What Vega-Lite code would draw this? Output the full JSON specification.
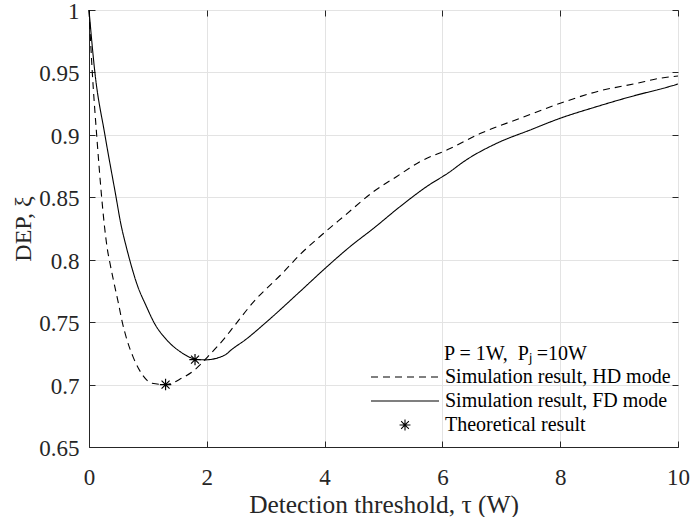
{
  "$schema": "https://vega.github.io/schema/vega-lite/v6.json",
  "width": 589,
  "height": 437,
  "autosize": {"type": "none"},
  "padding": {"left": 89, "top": 10, "right": 13, "bottom": 70},
  "background": "white",
  "config": {
    "font": "Liberation Serif",
    "view": {"stroke": "#262626", "strokeWidth": 1},
    "axis": {
      "labelFont": "Liberation Serif",
      "titleFont": "Liberation Serif",
      "labelFontSize": 23,
      "titleFontSize": 24,
      "titleFontWeight": "normal",
      "labelColor": "#262626",
      "titleColor": "#262626",
      "tickColor": "#262626",
      "domainColor": "#262626",
      "gridColor": "#e3e3e3",
      "gridWidth": 1,
      "labelFlush": false
    }
  },
  "data": {
    "values": [
      {"series": "Simulation result, HD mode", "x": 0, "y": 1.0},
      {"series": "Simulation result, HD mode", "x": 0.056, "y": 0.95},
      {"series": "Simulation result, HD mode", "x": 0.13, "y": 0.9},
      {"series": "Simulation result, HD mode", "x": 0.215, "y": 0.85},
      {"series": "Simulation result, HD mode", "x": 0.26, "y": 0.828},
      {"series": "Simulation result, HD mode", "x": 0.31, "y": 0.809},
      {"series": "Simulation result, HD mode", "x": 0.357, "y": 0.797},
      {"series": "Simulation result, HD mode", "x": 0.44, "y": 0.778},
      {"series": "Simulation result, HD mode", "x": 0.5, "y": 0.765},
      {"series": "Simulation result, HD mode", "x": 0.56, "y": 0.751},
      {"series": "Simulation result, HD mode", "x": 0.65, "y": 0.735},
      {"series": "Simulation result, HD mode", "x": 0.75, "y": 0.722},
      {"series": "Simulation result, HD mode", "x": 0.92, "y": 0.707},
      {"series": "Simulation result, HD mode", "x": 1.07, "y": 0.701},
      {"series": "Simulation result, HD mode", "x": 1.3, "y": 0.7},
      {"series": "Simulation result, HD mode", "x": 1.57, "y": 0.705},
      {"series": "Simulation result, HD mode", "x": 1.8, "y": 0.712},
      {"series": "Simulation result, HD mode", "x": 2.03, "y": 0.723},
      {"series": "Simulation result, HD mode", "x": 2.3, "y": 0.737},
      {"series": "Simulation result, HD mode", "x": 2.45, "y": 0.746},
      {"series": "Simulation result, HD mode", "x": 2.79, "y": 0.766},
      {"series": "Simulation result, HD mode", "x": 3.3, "y": 0.79},
      {"series": "Simulation result, HD mode", "x": 3.58, "y": 0.804},
      {"series": "Simulation result, HD mode", "x": 3.98, "y": 0.821},
      {"series": "Simulation result, HD mode", "x": 4.32, "y": 0.8345},
      {"series": "Simulation result, HD mode", "x": 4.83, "y": 0.8545},
      {"series": "Simulation result, HD mode", "x": 5.22, "y": 0.8665},
      {"series": "Simulation result, HD mode", "x": 5.62, "y": 0.8785},
      {"series": "Simulation result, HD mode", "x": 6.13, "y": 0.889},
      {"series": "Simulation result, HD mode", "x": 6.64, "y": 0.901},
      {"series": "Simulation result, HD mode", "x": 7.32, "y": 0.9133},
      {"series": "Simulation result, HD mode", "x": 8.0, "y": 0.9253},
      {"series": "Simulation result, HD mode", "x": 8.62, "y": 0.9346},
      {"series": "Simulation result, HD mode", "x": 9.3, "y": 0.9413},
      {"series": "Simulation result, HD mode", "x": 9.69, "y": 0.9453},
      {"series": "Simulation result, HD mode", "x": 10, "y": 0.9471},
      {"series": "Simulation result, FD mode", "x": 0, "y": 1.0},
      {"series": "Simulation result, FD mode", "x": 0.1, "y": 0.95},
      {"series": "Simulation result, FD mode", "x": 0.27, "y": 0.9},
      {"series": "Simulation result, FD mode", "x": 0.46, "y": 0.85},
      {"series": "Simulation result, FD mode", "x": 0.535, "y": 0.83},
      {"series": "Simulation result, FD mode", "x": 0.64, "y": 0.809},
      {"series": "Simulation result, FD mode", "x": 0.69, "y": 0.8},
      {"series": "Simulation result, FD mode", "x": 0.81, "y": 0.781},
      {"series": "Simulation result, FD mode", "x": 0.98, "y": 0.762},
      {"series": "Simulation result, FD mode", "x": 1.1, "y": 0.75},
      {"series": "Simulation result, FD mode", "x": 1.32, "y": 0.7357},
      {"series": "Simulation result, FD mode", "x": 1.55, "y": 0.7263},
      {"series": "Simulation result, FD mode", "x": 1.8, "y": 0.7205},
      {"series": "Simulation result, FD mode", "x": 1.97, "y": 0.7198},
      {"series": "Simulation result, FD mode", "x": 2.31, "y": 0.7237},
      {"series": "Simulation result, FD mode", "x": 2.42, "y": 0.728},
      {"series": "Simulation result, FD mode", "x": 2.65, "y": 0.7357},
      {"series": "Simulation result, FD mode", "x": 3.02, "y": 0.7504},
      {"series": "Simulation result, FD mode", "x": 3.58, "y": 0.7744},
      {"series": "Simulation result, FD mode", "x": 4.04, "y": 0.7944},
      {"series": "Simulation result, FD mode", "x": 4.43, "y": 0.8104},
      {"series": "Simulation result, FD mode", "x": 4.83, "y": 0.8251},
      {"series": "Simulation result, FD mode", "x": 5.28, "y": 0.8425},
      {"series": "Simulation result, FD mode", "x": 5.73, "y": 0.8585},
      {"series": "Simulation result, FD mode", "x": 6.13, "y": 0.8705},
      {"series": "Simulation result, FD mode", "x": 6.36, "y": 0.8785},
      {"series": "Simulation result, FD mode", "x": 6.92, "y": 0.8932},
      {"series": "Simulation result, FD mode", "x": 7.49, "y": 0.9039},
      {"series": "Simulation result, FD mode", "x": 8.0, "y": 0.9133},
      {"series": "Simulation result, FD mode", "x": 8.62, "y": 0.9226},
      {"series": "Simulation result, FD mode", "x": 9.3, "y": 0.9319},
      {"series": "Simulation result, FD mode", "x": 9.75, "y": 0.9373},
      {"series": "Simulation result, FD mode", "x": 10, "y": 0.9407},
      {"series": "Theoretical result", "x": 1.3, "y": 0.7},
      {"series": "Theoretical result", "x": 1.8, "y": 0.72}
    ]
  },
  "resolve": {"axis": {"x": "independent", "y": "independent"}},
  "layer": [
    {
      "transform": [{"filter": "datum.series !== 'Theoretical result'"}],
      "mark": {"type": "line", "color": "black", "strokeWidth": 1.1, "interpolate": "monotone"},
      "encoding": {
        "x": {
          "field": "x", "type": "quantitative",
          "scale": {"domain": [0, 10], "nice": false},
          "axis": {"orient": "bottom", "values": [0, 2, 4, 6, 8, 10], "tickSize": -6, "labelPadding": 25, "title": "Detection threshold, τ (W)", "titleFontSize": 25.4, "titlePadding": 3, "grid": true, "domain": true}
        },
        "y": {
          "field": "y", "type": "quantitative",
          "scale": {"domain": [0.65, 1], "nice": false, "zero": false},
          "axis": {"orient": "left", "values": [0.65, 0.7, 0.75, 0.8, 0.85, 0.9, 0.95, 1], "format": ".2~f", "tickSize": -6, "labelPadding": 16, "labelOffset": 1.5, "title": "DEP, ξ", "titlePadding": 3, "grid": true, "domain": true}
        },
        "strokeDash": {
          "field": "series", "type": "nominal",
          "scale": {
            "domain": ["Simulation result, HD mode", "Simulation result, FD mode", "Theoretical result"],
            "range": [[7, 5], [1, 0], [1, 0]]
          },
          "legend": {
            "title": "P = 1W,\u00a0\u00a0Pⱼ\u00a0=10W",
            "orient": "none",
            "legendX": 281,
            "legendY": 334,
            "padding": 0,
            "titleFont": "Liberation Serif",
            "titleFontSize": 20,
            "titleFontWeight": "normal",
            "titleColor": "black",
            "titlePadding": 1,
            "labelFont": "Liberation Serif",
            "labelFontSize": 20,
            "labelColor": "black",
            "labelOffset": 5,
            "labelLimit": 400,
            "symbolType": "stroke",
            "symbolSize": 4624,
            "symbolStrokeWidth": 1.1,
            "symbolStrokeColor": "black",
            "clipHeight": 24,
            "rowPadding": 0,
            "encode": {
              "title": {"update": {"dx": {"value": 74}}},
              "symbols": {"update": {
                "shape": {"signal": "datum.value === 'Theoretical result' ? 'M-0.16,0L0.16,0M0,-0.16L0,0.16M-0.113,-0.113L0.113,0.113M-0.113,0.113L0.113,-0.113' : 'stroke'"},
                "stroke": {"value": "black"}
              }}
            }
          }
        }
      }
    },
    {
      "transform": [{"filter": "datum.series === 'Theoretical result'"}],
      "mark": {
        "type": "point",
        "shape": "M-1,0L1,0M0,-1L0,1M-0.7,-0.7L0.7,0.7M-0.7,0.7L0.7,-0.7",
        "filled": false,
        "color": "black",
        "strokeWidth": 1.2,
        "size": 130,
        "opacity": 1
      },
      "encoding": {
        "x": {
          "field": "x", "type": "quantitative",
          "scale": {"domain": [0, 10], "nice": false},
          "axis": {"orient": "top", "values": [0, 2, 4, 6, 8, 10], "tickSize": -6, "labels": false, "title": null, "grid": false, "domain": false}
        },
        "y": {
          "field": "y", "type": "quantitative",
          "scale": {"domain": [0.65, 1], "nice": false, "zero": false},
          "axis": {"orient": "right", "values": [0.65, 0.7, 0.75, 0.8, 0.85, 0.9, 0.95, 1], "tickSize": -6, "labels": false, "title": null, "grid": false, "domain": false}
        }
      }
    }
  ]
}
